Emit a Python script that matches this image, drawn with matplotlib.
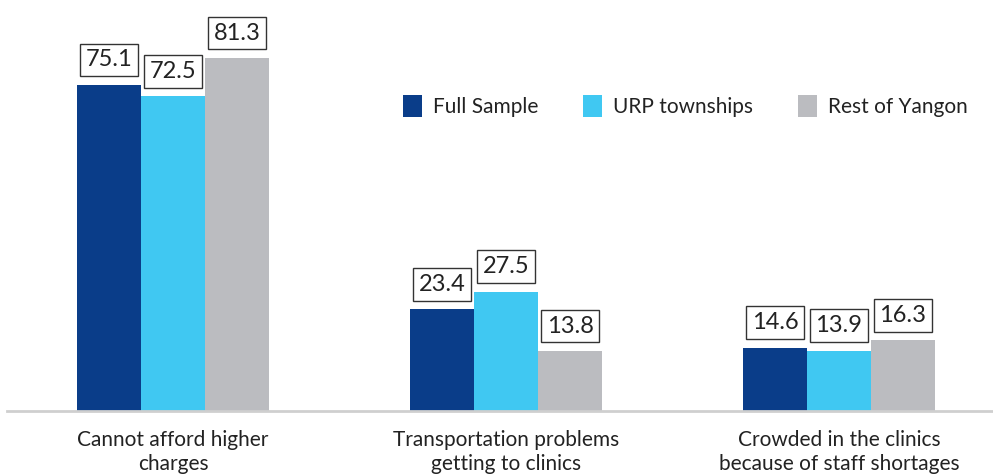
import numpy as np
import matplotlib
matplotlib.use("Agg")
from matplotlib import pyplot as plt

categories = ["Cannot afford higher\ncharges",
              "Transportation problems\ngetting to clinics",
              "Crowded in the clinics\nbecause of staff shortages"]
series_names = ["Full Sample", "URP townships", "Rest of Yangon"]
full_sample = [75.1, 23.4, 14.6]
urp_townships = [72.5, 27.5, 13.9]
rest_of_yangon = [81.3, 13.8, 16.3]
colors = ["#0A3D89", "#40C8F2", "#BBBCC0"]

plt.rcParams['font.family'] = ['Lato', 'DejaVu Sans']

fig = plt.figure(figsize=(9.93, 4.75), dpi=100)
ax = fig.add_axes([7/993, 64/475, 986/993, 411/475])

x = np.arange(len(categories))
w = 64/333
values = [full_sample, urp_townships, rest_of_yangon]
for i, (vals, name, c) in enumerate(zip(values, series_names, colors)):
    bars = ax.bar(x + (i - 1) * w, vals, w, color=c, label=name)
    for b, v in zip(bars, vals):
        ax.annotate(f"{v:.1f}", (b.get_x() + b.get_width() / 2, v),
                    xytext=(0, 10.5), textcoords="offset points",
                    ha="center", va="bottom", fontsize=17, color="#222222",
                    bbox=dict(boxstyle="square,pad=0.25", fc="white", ec="#333333", lw=1))

ax.set_xlim(-166/333, 820/333)
ax.set_ylim(0, 94.7)
ax.set_xticks(x)
ax.set_xticklabels(categories, fontsize=15, color="#222222", linespacing=1.25)
ax.tick_params(axis="x", length=0, pad=14)
ax.set_yticks([])
for s in ["top", "right", "left"]:
    ax.spines[s].set_visible(False)
ax.spines["bottom"].set_color("#CFCFCF")
ax.spines["bottom"].set_linewidth(2)

ax.legend(loc="center left", bbox_to_anchor=(377/986, (475-106-64)/411), ncol=3,
          frameon=False, fontsize=15, handlelength=0.9, handleheight=1.2,
          columnspacing=2.15, handletextpad=0.55, labelcolor="#222222")

fig.savefig("out.png", dpi=100)
